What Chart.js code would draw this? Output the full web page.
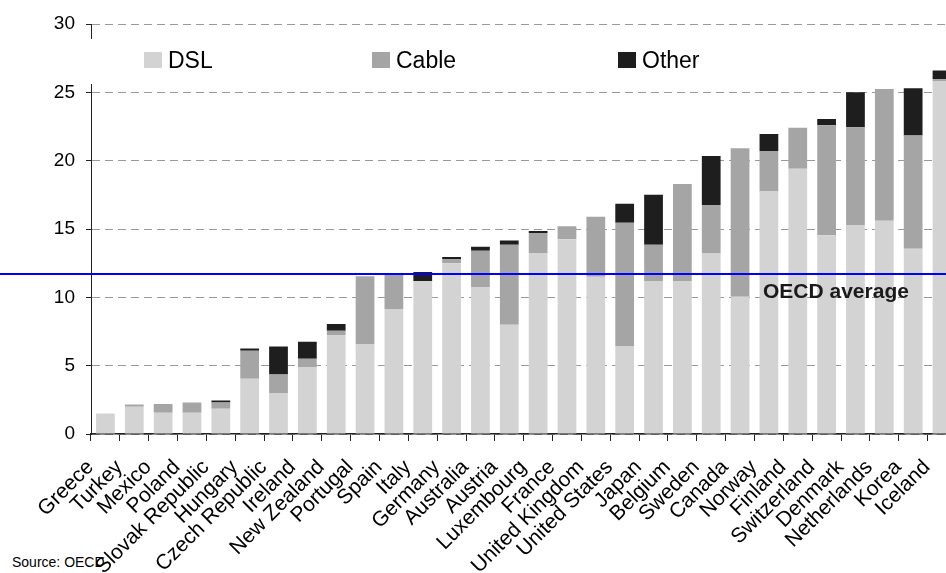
<!DOCTYPE html>
<html>
<head>
<meta charset="utf-8">
<script src="https://cdn.jsdelivr.net/npm/chart.js@4.4.1/dist/chart.umd.min.js"></script>
<style>
  html, body { margin: 0; padding: 0; overflow: hidden; background: #fff; }
  #wrap { position: relative; width: 946px; height: 573px; overflow: hidden; }
  #source { position: absolute; left: 12px; top: 554px; font: 14px Arial, "Liberation Sans", sans-serif; color: #000; }
  #chart { position: absolute; left: 0; top: 0; }
</style>
</head>
<body>
<div id="wrap">
  <div id="source">Source: OECD</div>
  <canvas id="chart" width="974" height="573"></canvas>
</div>
<script>
// countries, sorted by total
const countries = ["Greece", "Turkey", "Mexico", "Poland", "Slovak Republic", "Hungary",
  "Czech Republic", "Ireland", "New Zealand", "Portugal", "Spain", "Italy", "Germany",
  "Australia", "Austria", "Luxembourg", "France", "United Kingdom", "United States",
  "Japan", "Belgium", "Sweden", "Canada", "Norway", "Finland", "Switzerland",
  "Denmark", "Netherlands", "Korea", "Iceland"];

const dsl = [1.5, 2.0, 1.55, 1.55, 1.85, 4.05, 3.0, 4.9, 7.25, 6.55, 9.15, 11.2, 12.5,
  10.75, 8.0, 13.25, 14.25, 11.5, 6.4, 11.2, 11.2, 13.25, 10.05, 17.75, 19.4, 14.55,
  15.3, 15.6, 13.55, 25.8];
const cable = [0, 0.15, 0.65, 0.75, 0.45, 2.05, 1.35, 0.6, 0.3, 5.0, 2.5, 0, 0.3,
  2.65, 5.85, 1.45, 0.95, 4.4, 9.05, 2.65, 7.1, 3.5, 10.85, 2.95, 3.0, 8.05,
  7.15, 9.65, 8.3, 0.15];
const other = [0, 0, 0, 0, 0.15, 0.15, 2.05, 1.25, 0.5, 0, 0, 0.65, 0.15,
  0.3, 0.3, 0.15, 0, 0, 1.4, 3.65, 0, 3.6, 0, 1.25, 0, 0.45,
  2.55, 0, 3.45, 0.65];

const oecdAverage = 11.7;
const yMin = 0, yMax = 30, yStep = 5;

const FONT = 'Arial, "Liberation Sans", sans-serif';

// legend + average line, drawn by hand to sit inside the plot like the original
const decor = {
  id: "decor",
  afterDatasetsDraw(chart) {
    const ctx = chart.ctx;
    const y = chart.scales.y.getPixelForValue(oecdAverage);
    ctx.save();
    ctx.strokeStyle = "#0000ff";
    ctx.lineWidth = 2;
    ctx.beginPath();
    ctx.moveTo(0, y);
    ctx.lineTo(chart.width, y);
    ctx.stroke();
    ctx.fillStyle = "#1a1a1a";
    ctx.font = "bold 21px " + FONT;
    ctx.fillText("OECD average", 763, y + 24);
    ctx.restore();
  },
  afterDraw(chart) {
    const ctx = chart.ctx;
    ctx.save();
    ctx.fillStyle = "#fff";
    ctx.fillRect(84, 39, 650, 45);
    const xs = [144, 372, 618];
    ctx.font = "23px " + FONT;
    ctx.textBaseline = "alphabetic";
    chart.data.datasets.forEach((ds, i) => {
      ctx.fillStyle = ds.backgroundColor;
      ctx.fillRect(xs[i], 52, 18, 16);
      ctx.fillStyle = "#000";
      ctx.fillText(ds.label, xs[i] + 24, 68);
    });
    ctx.restore();
  }
};

const config = {
  type: "bar",
  data: {
    labels: countries,
    datasets: [
      { label: "DSL", data: dsl, backgroundColor: "#d3d3d3" },
      { label: "Cable", data: cable, backgroundColor: "#a5a5a5" },
      { label: "Other", data: other, backgroundColor: "#1e1e1e" }
    ]
  },
  options: {
    responsive: false,
    animation: false,
    layout: { padding: { left: 0, right: 11, top: 24, bottom: 0 } },
    datasets: { bar: { barPercentage: 0.65, categoryPercentage: 1.0 } },
    plugins: { legend: { display: false }, tooltip: { enabled: false } },
    scales: {
      x: {
        stacked: true,
        ticks: {
          font: { family: FONT, size: 21 },
          color: "#000",
          autoSkip: false,
          maxRotation: 45,
          minRotation: 45,
          padding: 14,
          labelOffset: -15
        },
        grid: { drawOnChartArea: false, drawTicks: true, tickLength: 7, tickColor: "#222", offset: true },
        border: { display: true, color: "#222", width: 1.5 },
        afterFit: (s) => { s.height = 139; }
      },
      y: {
        stacked: true,
        min: yMin,
        max: yMax,
        ticks: { stepSize: yStep, font: { family: FONT, size: 19 }, color: "#000", padding: 11 },
        grid: { color: "#9a9a9a", lineWidth: 1, tickColor: "#222", tickLength: 5, tickBorderDash: [] },
        border: { display: true, color: "#222", width: 1, dash: [8, 5] },
        afterFit: (s) => { s.width = 91; }
      }
    }
  },
  plugins: [decor]
};

const myChart = new Chart(document.getElementById("chart"), config);
</script>
</body>
</html>
